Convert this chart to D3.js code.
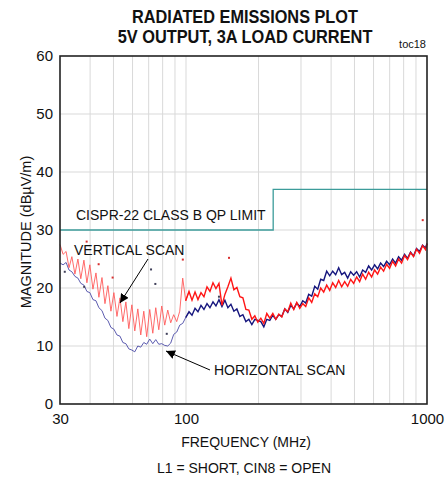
<!DOCTYPE html>
<html>
<head>
<meta charset="utf-8">
<script src="https://cdn.jsdelivr.net/npm/d3@7"></script>
<style>
  html, body { margin: 0; padding: 0; background: #fff; }
  svg text { font-family: "Liberation Sans", Arial, sans-serif; fill: #111; }
</style>
</head>
<body>
<div id="chart"></div>
<script>
// frequency points (MHz) shared by both scans
var freqMHz = [
  30, 30.9, 31.8, 32.7, 33.6, 34.6, 35.6, 36.6, 37.7, 38.8,
  39.9, 41.1, 42.3, 43.5, 44.8, 46.1, 47.4, 48.8, 50.2, 51.7,
  53.2, 54.7, 56.3, 57.9, 59.6, 61.3, 63.1, 64.9, 66.8, 68.7,
  70.7, 72.8, 74.9, 77.1, 79.3, 81.6, 84.0, 86.4, 88.9, 91.5,
  94.2, 96.9, 99.7,
  102.9, 105.9, 109, 112.1, 115.4, 118.7, 122.2, 125.7, 129.4, 133.1,
  137, 141, 145, 149.2, 153.6, 158, 162.6, 167.3, 172.2, 177.2,
  182.3, 187.6, 193, 198.6, 204.4, 210.3, 216.4, 222.7, 229.2, 235.8,
  242.7, 249.7, 257, 264.4, 272.1, 280, 288.1, 296.5, 305.1, 313.9,
  323, 332.4, 342.1, 352, 362.2, 372.7, 383.5, 394.7, 406.1, 417.9,
  430, 442.5, 455.4, 468.6, 482.2, 496.2, 510.6, 525.4, 540.7, 556.4,
  572.5, 589.1, 606.2, 623.8, 641.9, 660.6, 679.8, 699.5, 719.8, 740.7,
  762.2, 784.3, 807.1, 830.5, 854.6, 879.4, 904.9, 931.2, 958.2, 986.0,
  1000
];

// vertical scan (red), dBuV/m
var verticalScan = [
  27.5, 25.8, 26.3, 23.5, 25.4, 22.4, 25.0, 21.6, 24.8, 20.9,
  24.0, 19.8, 22.6, 18.4, 21.8, 17.3, 20.4, 16.0, 19.2, 15.1,
  18.3, 14.2, 17.6, 13.0, 17.1, 12.6, 16.4, 11.9, 16.0, 11.6,
  16.3, 12.2, 16.6, 12.8, 16.9, 13.6, 16.2, 14.0, 15.4, 14.2,
  16.0, 21.7, 17.8,
  19.4, 17.9, 19.3, 18.0, 19.2, 18.5, 20.2, 19.4, 20.9, 19.9,
  20.8, 17.0, 18.9, 20.2, 21.7, 19.7, 20.1, 18.5, 18.3, 16.3,
  16.2, 14.6, 15.2, 14.1, 14.8, 13.9, 15.6, 14.8, 15.6, 14.6,
  15.5, 15.0, 16.4, 15.9, 17.4, 16.3, 17.5, 16.5, 17.3, 16.8,
  18.3, 17.5, 19.0, 18.5, 20.0, 19.3, 20.5, 19.6, 20.9, 20.1,
  21.3, 20.2, 21.1, 20.3, 21.5, 20.8, 21.9, 21.1, 22.4, 21.5,
  22.7, 21.9, 23.1, 22.4, 23.6, 22.9, 24.1, 23.4, 24.6, 23.8,
  25.0, 24.3, 25.6, 24.9, 26.1, 25.4, 26.7, 26.0, 27.3, 26.6,
  27.6
];

// horizontal scan (blue), dBuV/m
var horizontalScan = [
  24.3, 24.0, 24.4, 23.1, 22.8, 22.0, 21.7, 20.8, 20.5, 19.4,
  19.2, 18.0, 17.8, 16.6, 16.1, 14.8, 14.4, 13.2, 12.9, 11.9,
  11.7, 10.6, 10.4, 9.5, 9.3, 9.0, 10.0, 9.8, 10.6, 10.3,
  11.2, 10.4, 11.1, 10.3, 10.4, 10.1, 10.0, 10.5, 12.0, 12.4,
  13.6, 13.9, 14.9,
  15.9, 15.3, 16.5, 15.9, 17.0, 16.3, 17.3, 16.6, 17.6, 16.9,
  18.0, 16.8, 17.9, 16.6, 17.2, 16.0, 16.4, 15.1, 15.4, 14.2,
  14.6, 13.7, 14.6, 14.4, 14.2, 13.3, 14.6, 14.4, 15.3, 14.6,
  15.4, 15.1, 16.4, 15.8, 17.0, 16.4, 17.4, 16.8, 17.8, 17.4,
  18.9, 18.6, 20.3, 19.8, 21.5, 21.3, 22.9, 22.1, 22.9, 22.3,
  23.5, 22.3, 22.7, 21.7, 22.8, 22.2, 22.8, 21.9, 23.1, 22.7,
  23.8, 23.1, 24.0, 23.3, 24.3, 23.7, 24.6, 24.0, 25.0, 24.3,
  25.4, 24.8, 25.8, 25.1, 26.2, 25.5, 26.8, 26.3, 27.4, 26.9,
  27.7
];

// CISPR-22 class B QP limit
var limitFreq = [30, 230, 230, 1000];
var limitLevel = [30, 30, 37, 37];

// quasi-peak markers
var qpFreqRed = [38.7, 43.4, 49.6, 97, 150.8, 960];
var qpLevelRed = [28.0, 24.1, 21.8, 24.9, 25.2, 31.7];
var qpFreqDark = [31.4, 37.8, 71.6, 74.6, 83.2, 137];
var qpLevelDark = [22.8, 20.2, 23.2, 20.7, 12.1, 18.5];

var yTicks = [0, 10, 20, 30, 40, 50, 60];
var xTickLabels = [30, 100, 1000];
var xGrid = [40, 50, 60, 70, 80, 90, 100, 200, 300, 400, 500, 600, 700, 800, 900];

var W = 445, H = 481;
var margin = { top: 56, right: 18, bottom: 77, left: 60 };
var width = W - margin.left - margin.right,
    height = H - margin.top - margin.bottom;

var svg = d3.select('#chart').append('svg').attr('width', W).attr('height', H);
var g = svg.append('g').attr('transform', 'translate(' + margin.left + ',' + margin.top + ')');

var x = d3.scaleLog().domain([30, 1000]).range([0, width]);
var y = d3.scaleLinear().domain([0, 60]).range([height, 0]);

// grid
g.selectAll('.vgrid').data(xGrid).enter().append('line')
  .attr('x1', function (d) { return x(d); }).attr('x2', function (d) { return x(d); })
  .attr('y1', 0).attr('y2', height)
  .style('stroke', '#d9d9d9').style('stroke-width', 1);
g.selectAll('.hgrid').data(yTicks.slice(1, -1)).enter().append('line')
  .attr('x1', 0).attr('x2', width)
  .attr('y1', function (d) { return y(d); }).attr('y2', function (d) { return y(d); })
  .style('stroke', '#d9d9d9').style('stroke-width', 1);

// limit line
var limitData = limitFreq.map(function (f, i) { return [f, limitLevel[i]]; });
var line = d3.line().x(function (d) { return x(d[0]); }).y(function (d) { return y(d[1]); });
g.append('path').datum(limitData).attr('d', line)
  .style('fill', 'none').style('stroke', '#3c9c9a').style('stroke-width', 1.3);

// scans: thin, lighter below 100 MHz, denser above
var hData = freqMHz.map(function (f, i) { return [f, horizontalScan[i]]; });
var vData = freqMHz.map(function (f, i) { return [f, verticalScan[i]]; });
var lowH = hData.filter(function (d) { return d[0] <= 103; }),
    highH = hData.filter(function (d) { return d[0] >= 99; });
var lowV = vData.filter(function (d) { return d[0] <= 103; }),
    highV = vData.filter(function (d) { return d[0] >= 99; });

g.append('path').datum(lowH).attr('d', line)
  .style('fill', 'none').style('stroke', '#4a4aa6').style('stroke-width', 0.9);
g.append('path').datum(highH).attr('d', line)
  .style('fill', 'none').style('stroke', '#16167e').style('stroke-width', 1.4);
g.append('path').datum(lowV).attr('d', line)
  .style('fill', 'none').style('stroke', '#ff5a5a').style('stroke-width', 0.9);
g.append('path').datum(highV).attr('d', line)
  .style('fill', 'none').style('stroke', '#ff1515').style('stroke-width', 1.4);

// qp markers
g.selectAll('.qpr').data(qpFreqRed).enter().append('rect')
  .attr('x', function (d) { return x(d) - 1; })
  .attr('y', function (d, i) { return y(qpLevelRed[i]) - 1; })
  .attr('width', 2).attr('height', 2).style('fill', '#d83030');
g.selectAll('.qpd').data(qpFreqDark).enter().append('rect')
  .attr('x', function (d) { return x(d) - 1; })
  .attr('y', function (d, i) { return y(qpLevelDark[i]) - 1; })
  .attr('width', 2).attr('height', 2).style('fill', '#40405a');

// frame
g.append('rect').attr('width', width).attr('height', height)
  .style('fill', 'none').style('stroke', '#222').style('stroke-width', 1.6);

// axes labels
var yAxis = d3.axisLeft(y).tickValues(yTicks).tickSize(0).tickPadding(7);
var yG = g.append('g').call(yAxis);
yG.select('.domain').remove();
yG.selectAll('text').style('font-size', '15px').style('font-family', '"Liberation Sans", Arial, sans-serif');

var xAxis = d3.axisBottom(x).tickValues(xTickLabels).tickFormat(d3.format('d')).tickSize(0).tickPadding(9);
var xG = g.append('g').attr('transform', 'translate(0,' + height + ')').call(xAxis);
xG.select('.domain').remove();
xG.selectAll('text').style('font-size', '15px').style('font-family', '"Liberation Sans", Arial, sans-serif');

// titles: squeeze horizontally to the narrow look of the original
function narrowTitle(txt, cx, by, targetW) {
  var t = svg.append('text').attr('text-anchor', 'middle')
    .style('font-size', '18px').style('font-weight', 'bold').text(txt);
  var k = targetW / t.node().getComputedTextLength();
  t.attr('transform', 'translate(' + cx + ',' + by + ') scale(' + k + ',1)');
}
narrowTitle('RADIATED EMISSIONS PLOT', 245, 22.5, 226);
narrowTitle('5V OUTPUT, 3A LOAD CURRENT', 245, 43, 255);

svg.append('text').attr('x', 426).attr('y', 48).attr('text-anchor', 'end')
  .style('font-size', '11px').text('toc18');

svg.append('text').attr('x', 246).attr('y', 447).attr('text-anchor', 'middle')
  .style('font-size', '14px').text('FREQUENCY (MHz)');
svg.append('text').attr('x', 244).attr('y', 473).attr('text-anchor', 'middle')
  .style('font-size', '14px').text('L1 = SHORT, CIN8 = OPEN');
svg.append('text').attr('transform', 'translate(31,232) rotate(-90)').attr('text-anchor', 'middle')
  .style('font-size', '14.5px').text('MAGNITUDE (dBµV/m)');

// annotations
svg.append('text').attr('x', 76).attr('y', 220).style('font-size', '14px').text('CISPR-22 CLASS B QP LIMIT');
svg.append('text').attr('x', 74).attr('y', 255).style('font-size', '14px').text('VERTICAL SCAN');
svg.append('text').attr('x', 214).attr('y', 375).style('font-size', '14px').text('HORIZONTAL SCAN');

svg.append('defs').append('marker').attr('id', 'arr')
  .attr('viewBox', '0 0 10 10').attr('refX', 10).attr('refY', 5)
  .attr('markerWidth', 9).attr('markerHeight', 9).attr('markerUnits', 'userSpaceOnUse')
  .attr('orient', 'auto')
  .append('path').attr('d', 'M0,0 L10,5 L0,10 z').style('fill', '#000');

svg.append('line').attr('x1', 148).attr('y1', 259).attr('x2', 120).attr('y2', 303)
  .style('stroke', '#000').style('stroke-width', 1).attr('marker-end', 'url(#arr)');
svg.append('line').attr('x1', 210).attr('y1', 370).attr('x2', 166).attr('y2', 351)
  .style('stroke', '#000').style('stroke-width', 1).attr('marker-end', 'url(#arr)');
</script>
</body>
</html>
